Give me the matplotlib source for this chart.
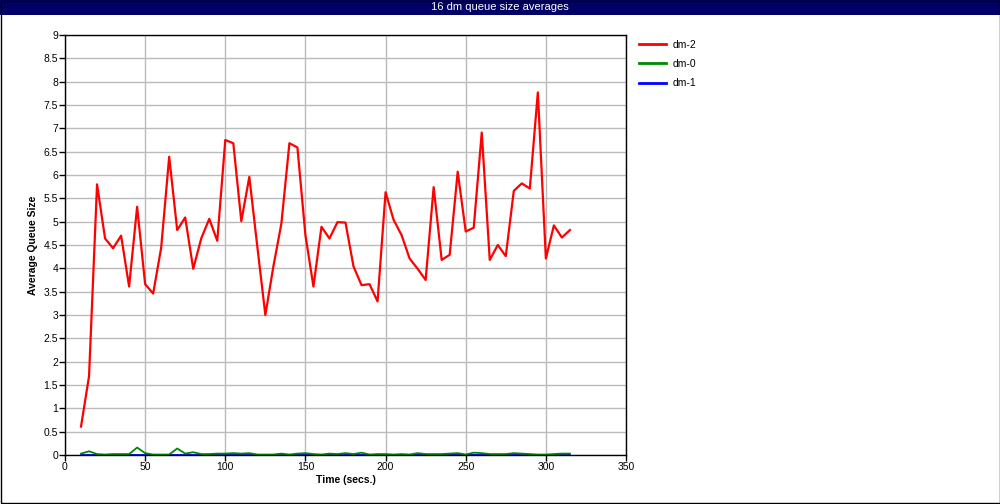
import numpy as np
import matplotlib.pyplot as plt
from matplotlib.patches import Rectangle
from matplotlib.lines import Line2D

time = np.arange(10, 320, 5)

dm2 = [0.61, 1.69, 5.80, 4.64, 4.43, 4.70, 3.61, 5.32, 3.66, 3.46,
       4.44, 6.39, 4.82, 5.09, 3.99, 4.64, 5.06, 4.59, 6.75, 6.68,
       5.01, 5.96, 4.46, 3.00, 4.04, 4.96, 6.68, 6.59, 4.71, 3.61,
       4.89, 4.64, 4.99, 4.98, 4.04, 3.64, 3.66, 3.29, 5.63, 5.04,
       4.71, 4.21, 3.99, 3.75, 5.74, 4.18, 4.29, 6.07, 4.79, 4.87,
       6.91, 4.18, 4.50, 4.26, 5.66, 5.82, 5.71, 7.77, 4.21, 4.92,
       4.66, 4.82]

dm0 = [0.03, 0.08, 0.02, 0.01, 0.02, 0.02, 0.02, 0.16, 0.04, 0.01,
       0.01, 0.01, 0.14, 0.03, 0.06, 0.02, 0.02, 0.03, 0.03, 0.04,
       0.03, 0.04, 0.01, 0.01, 0.01, 0.03, 0.01, 0.03, 0.04, 0.02,
       0.01, 0.03, 0.02, 0.04, 0.02, 0.05, 0.01, 0.02, 0.02, 0.01,
       0.02, 0.01, 0.04, 0.02, 0.02, 0.02, 0.03, 0.04, 0.01, 0.05,
       0.04, 0.02, 0.02, 0.02, 0.04, 0.03, 0.02, 0.01, 0.01, 0.02,
       0.03, 0.03]

dm1 = [0.01] * len(time)

series = [("dm-2", dm2, "#ff0000"), ("dm-0", dm0, "#008800"), ("dm-1", dm1, "#0000ff")]

plt.rcParams['font.family'] = ['Liberation Sans', 'DejaVu Sans']

fig = plt.figure(figsize=(10, 5.04), dpi=100)
ax = fig.add_axes([0.065, 0.0972, 0.561, 0.8334])

# Title bar
fig.patches.append(Rectangle((0, 1 - 15 / 504), 1, 15 / 504, transform=fig.transFigure,
                             facecolor="#000066", edgecolor="none", zorder=0))
fig.text(0.5, 1 - 7.5 / 504, "16 dm queue size averages", color="white",
         ha="center", va="center", fontsize=8)
# outer border
fig.patches.append(Rectangle((0.0005, 0.001), 0.999, 0.998, transform=fig.transFigure,
                             facecolor="none", edgecolor="black", linewidth=1, zorder=5))

for name, vals, col in series[::-1]:
    ax.plot(time, vals, color=col, linewidth=1.6 if name == "dm-2" else 1.3)

ax.set_xlim(0, 350)
ax.set_ylim(0, 9)
ax.set_xticks(np.arange(0, 351, 50))
ax.set_yticks(np.arange(0, 9.01, 0.5))
ax.set_yticklabels([f"{v:g}" for v in np.arange(0, 9.01, 0.5)])
ax.grid(True, color="#bbbbbb", linewidth=1)
ax.set_axisbelow(True)
ax.tick_params(labelsize=7.5, length=4, width=1, direction="out", pad=1)
for s in ax.spines.values():
    s.set_linewidth(1)
ax.set_xlabel("Time (secs.)", fontsize=7.5, fontweight="bold", labelpad=2)
ax.set_ylabel("Average Queue Size", fontsize=7.5, fontweight="bold", labelpad=4)

handles = [Line2D([], [], color=c, linewidth=2) for _, _, c in series]
fig.legend(handles, [n for n, _, _ in series], loc="upper left",
           bbox_to_anchor=(0.63, 0.94), frameon=False, fontsize=7.5,
           handlelength=2.6, handletextpad=0.6, labelspacing=0.9)

fig.savefig("out.png", dpi=100)
